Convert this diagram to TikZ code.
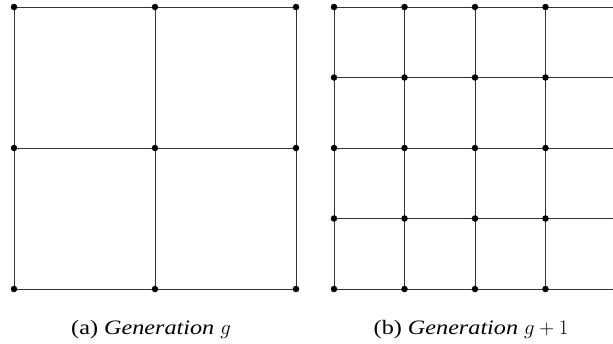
\documentclass[tikz,border=0pt]{standalone}
\usepackage{fontspec}
\setmainfont{Liberation Serif}
\newfontfamily\capfont[FakeStretch=1.18]{Liberation Serif}
\begin{document}
\begin{tikzpicture}[x=1pt,y=-1pt,
  vertex/.style={circle,fill=black,inner sep=0pt,minimum size=6.5pt},
  edge/.style={line width=1pt,draw=black!80},
  caption/.style={anchor=base,inner sep=0pt,font=\capfont\fontsize{20.5}{24}\selectfont}]
\useasboundingbox (0,0) rectangle (613,343);
% coarse mesh: 3 x 3 vertices
\foreach \i in {0,1,2}
  \foreach \j in {0,1,2}
    \coordinate (L-\i-\j) at ({14+141*\i},{7+141*\j});
% fine mesh: 5 x 5 vertices
\foreach \i in {0,...,4}
  \foreach \j in {0,...,4}
    \coordinate (R-\i-\j) at ({334+70.5*\i},{7+70.5*\j});
% mesh lines
\foreach \k in {0,1,2} {
  \draw[edge] (L-0-\k) -- (L-2-\k);
  \draw[edge] (L-\k-0) -- (L-\k-2);
}
\foreach \k in {0,...,4} {
  \draw[edge] (R-0-\k) -- (R-4-\k);
  \draw[edge] (R-\k-0) -- (R-\k-4);
}
% vertices
\foreach \i in {0,1,2}
  \foreach \j in {0,1,2}
    \node[vertex] (LV-\i-\j) at (L-\i-\j) {};
\foreach \i in {0,...,4}
  \foreach \j in {0,...,4}
    \node[vertex] (RV-\i-\j) at (R-\i-\j) {};
% captions
\node[caption] (capa) at (151,334.5) {(a) \textit{Generation $g$}};
\node[caption] (capb) at (471,334.5) {(b) \textit{Generation $g+1$}};
\end{tikzpicture}
\end{document}
